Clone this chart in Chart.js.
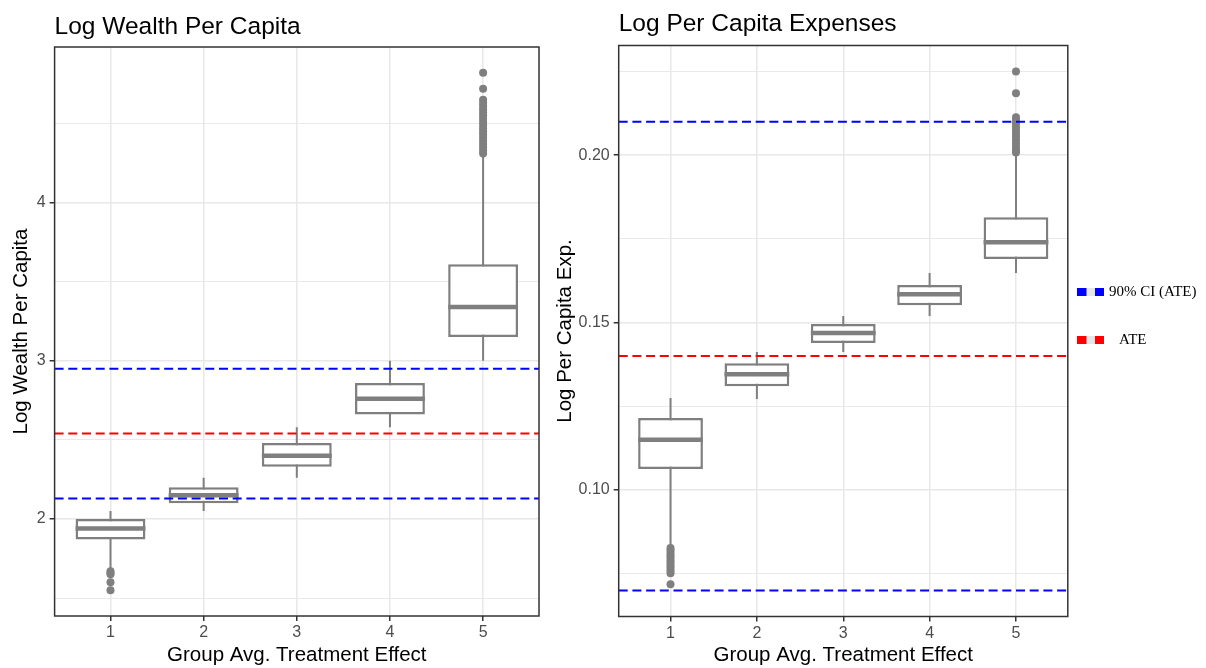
<!DOCTYPE html>
<html>
<head>
<meta charset="utf-8">
<script src="https://cdn.jsdelivr.net/npm/chart.js@4.4.1/dist/chart.umd.min.js"></script>
<style>
  html, body { margin: 0; padding: 0; background: #ffffff; }
  #wrap { position: relative; width: 1206px; height: 668px; overflow: hidden; background: #ffffff; }
  canvas { position: absolute; top: 0; }
  #wealth { left: 0; }
  #expenses { left: 545px; }
</style>
</head>
<body>
<div id="wrap">
  <canvas id="wealth" width="545" height="668"></canvas>
  <canvas id="expenses" width="661" height="668"></canvas>
</div>
<script>
// Treatment-effect groups (x axis)
const GROUPS = [1, 2, 3, 4, 5];
const GROUP_LABELS = ['1', '2', '3', '4', '5'];

// Log wealth per capita: box-plot summaries per group
const WEALTH_LOW    = [1.69, 2.05, 2.26, 2.58, 3.00];
const WEALTH_Q1     = [1.87, 2.10, 2.33, 2.66, 3.15];
const WEALTH_MEDIAN = [1.94, 2.15, 2.40, 2.76, 3.34];
const WEALTH_Q3     = [2.00, 2.20, 2.48, 2.86, 3.61];
const WEALTH_HIGH   = [2.05, 2.26, 2.58, 3.00, 4.30];
const WEALTH_OUTLIERS_G1 = [1.67, 1.66, 1.65, 1.60, 1.55];
const WEALTH_OUTLIERS_G5 = [4.82, 4.72, 4.65, 4.63, 4.61, 4.59, 4.57, 4.55, 4.53, 4.51,
                            4.49, 4.47, 4.45, 4.43, 4.41, 4.39, 4.37, 4.35, 4.33, 4.31];
const WEALTH_ATE = 2.54;
const WEALTH_CI  = [2.13, 2.95];
const WEALTH_Y_MAJOR  = [2, 3, 4];
const WEALTH_Y_LABELS = ['2', '3', '4'];
const WEALTH_Y_MINOR  = [1.5, 2.5, 3.5, 4.5];

// Log per capita expenses: box-plot summaries per group
const EXP_LOW    = [0.0835, 0.1272, 0.1412, 0.1520, 0.1648];
const EXP_Q1     = [0.1063, 0.1310, 0.1439, 0.1552, 0.1690];
const EXP_MEDIAN = [0.1150, 0.1346, 0.1469, 0.1585, 0.1740];
const EXP_Q3     = [0.1215, 0.1379, 0.1496, 0.1612, 0.1815];
const EXP_HIGH   = [0.1275, 0.1412, 0.1520, 0.1648, 0.2006];
const EXP_OUTLIERS_G1 = [0.0827, 0.0820, 0.0812, 0.0805, 0.0798, 0.0790, 0.0783,
                         0.0775, 0.0768, 0.0760, 0.0752, 0.0719];
const EXP_OUTLIERS_G5 = [0.2250, 0.2185, 0.2113, 0.2105, 0.2095, 0.2085, 0.2075,
                         0.2065, 0.2055, 0.2045, 0.2035, 0.2025, 0.2015, 0.2008];
const EXP_ATE = 0.14;
const EXP_CI  = [0.07, 0.21];
const EXP_Y_MAJOR  = [0.10, 0.15, 0.20];
const EXP_Y_LABELS = ['0.10', '0.15', '0.20'];
const EXP_Y_MINOR  = [0.075, 0.125, 0.175, 0.225];

const LEGEND_LABELS = ['90% CI (ATE)', 'ATE'];

// Styling
const SANS = '"Liberation Sans", Arial, Helvetica, sans-serif';
const SERIF = '"Liberation Serif", "Times New Roman", serif';
const BOX_COLOR = '#7f7f7f';
const CI_COLOR = '#0000ff';
const ATE_COLOR = '#ff0000';
const GRID_COLOR = '#e8e8e8';
const AXIS_COLOR = '#333333';
const TICK_COLOR = '#4d4d4d';
const DASH = [9, 4.7];
const BOX_WIDTH = 0.75;
const X_RANGE = [0.4, 5.6];

function expandRange(values, mult) {
  const lo = Math.min(...values), hi = Math.max(...values);
  const pad = (hi - lo) * mult;
  return [lo - pad, hi + pad];
}

// Frame, panel title and (optionally) the reference-line legend
const panelDecor = {
  id: 'panelDecor',
  afterDatasetsDraw(chart) {
    const { ctx, chartArea: a } = chart;
    ctx.save();
    ctx.strokeStyle = AXIS_COLOR;
    ctx.lineWidth = 1.5;
    ctx.strokeRect(a.left, a.top, a.right - a.left, a.bottom - a.top);
    ctx.restore();
  },
  afterDraw(chart, args, opts) {
    const { ctx, chartArea: a } = chart;
    ctx.save();
    ctx.fillStyle = '#000000';
    ctx.font = '24.5px ' + SANS;
    ctx.textAlign = 'left';
    ctx.textBaseline = 'alphabetic';
    ctx.fillText(opts.title, a.left, opts.titleBaseline);
    (opts.legend || []).forEach(item => {
      const kx = item.x, cy = item.y;
      ctx.fillStyle = '#e6e6e6';
      ctx.fillRect(kx, cy - 4, 27, 8);
      ctx.fillStyle = item.color;
      ctx.fillRect(kx, cy - 4, 9.5, 8);
      ctx.fillRect(kx + 18, cy - 4, 9, 8);
      ctx.fillStyle = '#000000';
      ctx.font = '15px ' + SERIF;
      ctx.textBaseline = 'middle';
      ctx.fillText(item.text, item.textX, cy);
    });
    ctx.restore();
  }
};

function makePanel(canvasId, p) {
  const half = BOX_WIDTH / 2;
  const boxes = GROUPS.map((g, i) => ({ x: g, y: [p.q1[i], p.q3[i]] }));
  const whiskers = [];
  const medians = [];
  GROUPS.forEach((g, i) => {
    whiskers.push({ x: g, y: p.low[i] }, { x: g, y: p.high[i] }, { x: g, y: null });
    medians.push({ x: g - half, y: p.median[i] }, { x: g + half, y: p.median[i] }, { x: g, y: null });
  });
  const outliers = [];
  p.outliers.forEach(([g, vals]) => vals.forEach(v => outliers.push({ x: g, y: v })));
  const hline = v => [{ x: X_RANGE[0], y: v }, { x: X_RANGE[1], y: v }];
  const yRange = expandRange([...p.low, ...p.high, ...outliers.map(o => o.y), p.ate, ...p.ci], 0.05);
  const yTicks = [...p.yMinor, ...p.yMajor].sort((a, b) => a - b);
  const isMajor = v => p.yMajor.indexOf(v) >= 0;

  const refLine = (v, color) => ({
    type: 'line', data: hline(v), borderColor: color, borderWidth: 2, borderDash: DASH,
    borderCapStyle: 'butt', pointRadius: 0, order: 0
  });

  return new Chart(document.getElementById(canvasId), {
    type: 'bar',
    data: {
      datasets: [
        refLine(p.ci[1], CI_COLOR),
        refLine(p.ate, ATE_COLOR),
        refLine(p.ci[0], CI_COLOR),
        { type: 'line', data: medians, borderColor: BOX_COLOR, borderWidth: 4.5, borderCapStyle: 'butt',
          pointRadius: 0, order: 1 },
        { type: 'line', data: outliers, showLine: false, pointRadius: 4, pointBackgroundColor: BOX_COLOR,
          pointBorderColor: BOX_COLOR, pointBorderWidth: 0, order: 1 },
        { type: 'bar', data: boxes, backgroundColor: '#ffffff', borderColor: BOX_COLOR, borderWidth: 2.5,
          borderSkipped: false, barPercentage: BOX_WIDTH, categoryPercentage: 1, order: 2 },
        { type: 'line', data: whiskers, borderColor: BOX_COLOR, borderWidth: 2, pointRadius: 0, order: 3 }
      ]
    },
    options: {
      responsive: false,
      animation: false,
      devicePixelRatio: 1,
      events: [],
      layout: { padding: p.padding },
      plugins: {
        legend: { display: false },
        tooltip: { enabled: false },
        panelDecor: { title: p.title, titleBaseline: p.titleBaseline, legend: p.legend }
      },
      scales: {
        x: {
          type: 'linear', min: X_RANGE[0], max: X_RANGE[1], offset: false,
          afterBuildTicks: s => { s.ticks = GROUPS.map(v => ({ value: v })); },
          afterFit: s => { s.height = p.xAxisHeight; },
          grid: { offset: false, color: GRID_COLOR, lineWidth: 1.5, tickColor: AXIS_COLOR,
                  tickLength: 5, tickWidth: 1.5 },
          border: { display: false },
          ticks: { callback: v => GROUP_LABELS[GROUPS.indexOf(v)], color: TICK_COLOR,
                   font: { family: SANS, size: 16 }, padding: 2, maxRotation: 0, autoSkip: false },
          title: { display: true, text: 'Group Avg. Treatment Effect', color: '#000000',
                   font: { family: SANS, size: 20.5 }, padding: { top: 0, bottom: 0 } }
        },
        y: {
          type: 'linear', min: yRange[0], max: yRange[1],
          afterBuildTicks: s => { s.ticks = yTicks.map(v => ({ value: v })); },
          afterFit: s => { s.width = p.yAxisWidth; },
          grid: {
            color: GRID_COLOR,
            lineWidth: c => (c.tick && isMajor(c.tick.value)) ? 1.5 : 0.9,
            tickColor: c => (c.tick && isMajor(c.tick.value)) ? AXIS_COLOR : 'rgba(0,0,0,0)',
            tickLength: 5, tickWidth: 1.5
          },
          border: { display: false },
          ticks: {
            callback: v => { const k = p.yMajor.indexOf(v); return k < 0 ? '' : p.yLabels[k]; },
            color: TICK_COLOR, font: { family: SANS, size: 16 }, padding: 4, autoSkip: false
          },
          title: { display: true, text: p.yTitle, color: '#000000',
                   font: { family: SANS, size: 20.5 }, padding: { top: 4, bottom: 0 } }
        }
      }
    },
    plugins: [panelDecor]
  });
}

makePanel('wealth', {
  title: 'Log Wealth Per Capita', titleBaseline: 34, yTitle: 'Log Wealth Per Capita',
  low: WEALTH_LOW, q1: WEALTH_Q1, median: WEALTH_MEDIAN, q3: WEALTH_Q3, high: WEALTH_HIGH,
  outliers: [[1, WEALTH_OUTLIERS_G1], [5, WEALTH_OUTLIERS_G5]],
  ate: WEALTH_ATE, ci: WEALTH_CI,
  yMajor: WEALTH_Y_MAJOR, yLabels: WEALTH_Y_LABELS, yMinor: WEALTH_Y_MINOR,
  padding: { left: 5, top: 47, right: 6, bottom: 0 }, yAxisWidth: 49.6, xAxisHeight: 52
});

makePanel('expenses', {
  title: 'Log Per Capita Expenses', titleBaseline: 31, yTitle: 'Log Per Capita Exp.',
  low: EXP_LOW, q1: EXP_Q1, median: EXP_MEDIAN, q3: EXP_Q3, high: EXP_HIGH,
  outliers: [[1, EXP_OUTLIERS_G1], [5, EXP_OUTLIERS_G5]],
  ate: EXP_ATE, ci: EXP_CI,
  yMajor: EXP_Y_MAJOR, yLabels: EXP_Y_LABELS, yMinor: EXP_Y_MINOR,
  padding: { left: 4, top: 45.5, right: 138.2, bottom: 0 }, yAxisWidth: 69.7, xAxisHeight: 51.5,
  legend: [
    { text: LEGEND_LABELS[0], color: CI_COLOR, x: 532, y: 292, textX: 564 },
    { text: LEGEND_LABELS[1], color: ATE_COLOR, x: 532, y: 340, textX: 574 }
  ]
});
</script>
</body>
</html>
